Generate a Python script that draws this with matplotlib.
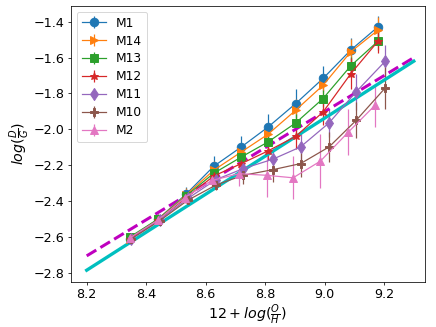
import numpy as np
import matplotlib
matplotlib.use("Agg")
import matplotlib.pyplot as plt

# Bin centres (12 + log(O/H))
x_base = [8.345, 8.44, 8.535, 8.627, 8.72, 8.81, 8.903, 8.995, 9.088, 9.18]
x_shift = [8.35, 8.445, 8.54, 8.635, 8.726, 8.825, 8.919, 9.015, 9.106, 9.204]
x_m2 = [8.345, 8.44, 8.53, 8.62, 8.713, 8.805, 8.894, 8.986, 9.08, 9.17]

labels = ["M1", "M14", "M13", "M12", "M11", "M10", "M2"]
markers = ["o", ">", "s", "*", "d", "P", "^"]

y_m1 = [-2.61, -2.50, -2.36, -2.206, -2.098, -1.987, -1.856, -1.716, -1.558, -1.428]
y_m14 = [-2.61, -2.50, -2.365, -2.228, -2.126, -2.027, -1.893, -1.754, -1.568, -1.446]
y_m13 = [-2.60, -2.50, -2.37, -2.245, -2.154, -2.07, -1.964, -1.828, -1.646, -1.508]
y_m12 = [-2.61, -2.505, -2.38, -2.26, -2.191, -2.12, -2.039, -1.903, -1.69, -1.508]
y_m11 = [-2.61, -2.505, -2.385, -2.28, -2.219, -2.167, -2.098, -1.964, -1.791, -1.62]
y_m10 = [-2.61, -2.51, -2.395, -2.31, -2.256, -2.225, -2.191, -2.098, -1.95, -1.769]
y_m2 = [-2.605, -2.505, -2.38, -2.285, -2.247, -2.256, -2.27, -2.177, -2.015, -1.865]

e_m1 = [0.02, 0.03, 0.04, 0.06, 0.06, 0.075, 0.08, 0.07, 0.065, 0.06]
e_m14 = [0.02, 0.03, 0.04, 0.05, 0.05, 0.06, 0.06, 0.06, 0.07, 0.07]
e_m13 = [0.02, 0.02, 0.03, 0.04, 0.05, 0.05, 0.05, 0.05, 0.05, 0.05]
e_m12 = [0.02, 0.02, 0.03, 0.04, 0.05, 0.05, 0.07, 0.07, 0.085, 0.065]
e_m11 = [0.02, 0.02, 0.03, 0.03, 0.04, 0.05, 0.08, 0.08, 0.10, 0.09]
e_m10 = [0.02, 0.02, 0.03, 0.03, 0.05, 0.07, 0.075, 0.085, 0.10, 0.12]
e_m2 = [0.02, 0.02, 0.03, 0.04, 0.07, 0.12, 0.12, 0.15, 0.13, 0.12]

# Reference relations
fit_x = [8.2, 9.3]
fit_cyan = [-2.785, -1.62]
fit_magenta = [-2.705, -1.60]

xs = [x_base, x_base, x_base, x_base, x_shift, x_shift, x_m2]
ys = [y_m1, y_m14, y_m13, y_m12, y_m11, y_m10, y_m2]
es = [e_m1, e_m14, e_m13, e_m12, e_m11, e_m10, e_m2]

fig = plt.figure(figsize=(6.4, 4.8), dpi=68.125)
ax = fig.add_axes([0.162, 0.138, 0.813, 0.845])

for x, y, e, m, lab in zip(xs, ys, es, markers, labels):
    ax.errorbar(x, y, yerr=e, marker=m, markersize=9, lw=1.3, label=lab)

ax.legend(loc="upper left", fontsize=13, labelspacing=0.4)

ax.plot(fit_x, fit_magenta, "m--", lw=3.2)
ax.plot(fit_x, fit_cyan, "c-", lw=3.5)

ax.set_xlim(8.146, 9.338)
ax.set_ylim(-2.85, -1.31)
ax.tick_params(labelsize=13.5, pad=3)
ax.set_xlabel(r"$12 + log(\frac{O}{H})$", fontsize=15, labelpad=2)
ax.set_ylabel(r"$log(\frac{D}{G})$", fontsize=15, labelpad=2)

fig.savefig("out.png", dpi=68.125)
